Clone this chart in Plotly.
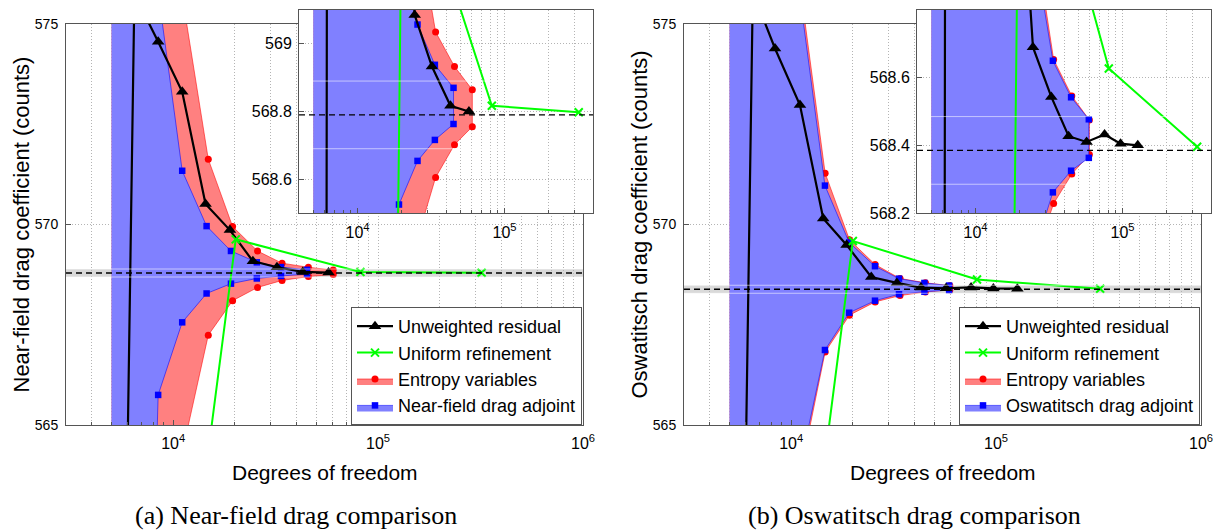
import numpy as np
import plotly.graph_objects as go

# ---------------- data ----------------
BAND_HALF = 0.1

# (a) Near-field drag
nf_ref = 568.79
nf_unw_dof = [5000, 6470, 8450, 11070, 14390, 18920, 24500, 32100, 42900, 57300]
nf_unw_cd = [537.5, 575.74, 574.56, 573.31, 570.51, 569.86, 569.085, 568.933, 568.817, 568.80]
nf_uni_dof = [5100, 20200, 82000, 320000]
nf_uni_cd = [546.0, 569.63, 568.817, 568.798]
nf_ent_dof = [5000, 6600, 8700, 11400, 14840, 19500, 25800, 34000, 45700, 60400]
nf_ent_hi = [610.0, 595.0, 582.0, 575.3, 571.63, 569.95, 569.34, 569.035, 568.933, 568.864]
nf_ent_lo = [520.0, 540.0, 556.0, 564.6, 567.24, 568.10, 568.43, 568.605, 568.702, 568.755]
nf_adj_dof = [5000, 6500, 8450, 11070, 14560, 19150, 25600, 33600, 45000]
nf_adj_hi = [610.0, 590.0, 575.8, 571.34, 569.96, 569.34, 569.057, 568.938, 568.870]
nf_adj_lo = [520.0, 545.0, 565.75, 567.56, 568.28, 568.525, 568.654, 568.716, 568.763]

# (b) Oswatitsch drag
os_ref = 568.385
os_unw_dof = [5000, 6500, 8340, 11040, 14340, 18650, 24600, 32800, 43000, 57000, 75500, 97000, 127000]
os_unw_cd = [537.0, 575.8, 574.39, 572.98, 570.15, 569.49, 568.69, 568.543, 568.427, 568.41, 568.432, 568.405, 568.40]
os_uni_dof = [5100, 20000, 80700, 322000]
os_uni_cd = [546.0, 569.59, 568.627, 568.396]
os_ent_dof = [5000, 6500, 8500, 11100, 14650, 19250, 25700, 34000, 45200, 59500]
os_ent_hi = [612.0, 597.0, 587.0, 575.9, 571.28, 569.62, 569.0, 568.654, 568.546, 568.475]
os_ent_lo = [528.0, 543.0, 554.0, 563.8, 566.82, 567.74, 568.07, 568.228, 568.315, 568.373]
os_adj_dof = [5000, 6500, 8500, 11100, 14620, 19200, 25650, 33600, 44700, 59000]
os_adj_hi = [610.0, 595.0, 585.0, 575.6, 570.97, 569.55, 568.96, 568.65, 568.542, 568.477]
os_adj_lo = [530.0, 545.0, 555.0, 564.0, 566.87, 567.80, 568.10, 568.261, 568.325, 568.363]

legend_names = ["Unweighted residual", "Uniform refinement", "Entropy variables"]
adj_names = ["Near-field drag adjoint", "Oswatitsch drag adjoint"]
y_titles = ["Near-field drag coefficient (counts)", "Oswatitsch drag coefficient (counts)"]
captions = ["(a) Near-field drag comparison", "(b) Oswatitsch drag comparison"]

# ---------------- styles / geometry ----------------
W, H = 1216, 531
SANS = "Liberation Sans, Arial, Helvetica, sans-serif"
SERIF = "Liberation Serif, Times New Roman, serif"
RED_FILL, RED_EDGE, RED_MK = "rgb(255,128,128)", "rgba(255,0,0,0.55)", "rgb(255,0,0)"
BLUE_FILL, BLUE_EDGE, BLUE_MK = "rgb(128,128,255)", "rgba(0,0,255,0.55)", "rgb(0,0,255)"
GREEN = "rgb(0,255,0)"
AXC = "#555555"
GRIDC = "#b4b4b4"
GRIDDASH = "1px,2px"


def fx(p):
    return p / W


def fy(p):
    return 1 - p / H


main_x_px = [(66, 583), (684, 1201)]
main_y_px = (24, 425)
inset_x_px = [(299, 593), (917, 1211)]
inset_y_px = (10, 213)


def log_ticks(vmin, vmax):
    major, texts, minor = [], [], []
    for e in range(3, 7):
        for m in range(1, 10):
            v = m * 10 ** e
            if vmin * 0.999 <= v <= vmax * 1.001:
                if m == 1:
                    major.append(v)
                    texts.append(f"10<sup>{e}</sup>")
                else:
                    minor.append(v)
    return major, texts, minor


def band_xy(xs, hi, lo):
    return list(xs) + list(xs[::-1]), list(hi) + list(lo[::-1])


fig = go.Figure()

panels = [
    dict(unw=(nf_unw_dof, nf_unw_cd), uni=(nf_uni_dof, nf_uni_cd),
         ent=(nf_ent_dof, nf_ent_hi, nf_ent_lo), adj=(nf_adj_dof, nf_adj_hi, nf_adj_lo),
         ref=nf_ref, adjname=adj_names[0]),
    dict(unw=(os_unw_dof, os_unw_cd), uni=(os_uni_dof, os_uni_cd),
         ent=(os_ent_dof, os_ent_hi, os_ent_lo), adj=(os_adj_dof, os_adj_hi, os_adj_lo),
         ref=os_ref, adjname=adj_names[1]),
]

for i, p in enumerate(panels):
    legend_id = "legend" if i == 0 else "legend2"
    for axes, show in [((f"x{'' if i == 0 else 2}", f"y{'' if i == 0 else 2}"), True),
                       ((f"x{3 + i}", f"y{3 + i}"), False)]:
        xa, ya = axes
        ex, ey = band_xy(*p["ent"])
        fig.add_trace(go.Scatter(
            x=ex, y=ey, xaxis=xa, yaxis=ya, mode="lines+markers", fill="toself",
            fillcolor=RED_FILL, line=dict(color=RED_EDGE, width=1),
            marker=dict(symbol="circle", size=7, color=RED_MK),
            name=legend_names[2], legend=legend_id, legendrank=3,
            showlegend=show, hoverinfo="skip"))
        bx, by = band_xy(*p["adj"])
        fig.add_trace(go.Scatter(
            x=bx, y=by, xaxis=xa, yaxis=ya, mode="lines+markers", fill="toself",
            fillcolor=BLUE_FILL, line=dict(color=BLUE_EDGE, width=1),
            marker=dict(symbol="square", size=6.5, color=BLUE_MK),
            name=p["adjname"], legend=legend_id, legendrank=4,
            showlegend=show, hoverinfo="skip"))
        fig.add_trace(go.Scatter(
            x=p["unw"][0], y=p["unw"][1], xaxis=xa, yaxis=ya, mode="lines+markers",
            line=dict(color="black", width=2.2),
            marker=dict(symbol="triangle-up", size=11, color="black"),
            name=legend_names[0], legend=legend_id, legendrank=1,
            showlegend=show, hoverinfo="skip"))
        fig.add_trace(go.Scatter(
            x=p["uni"][0], y=p["uni"][1], xaxis=xa, yaxis=ya, mode="lines+markers",
            line=dict(color=GREEN, width=2),
            marker=dict(symbol="x-thin", size=8, color=GREEN, line=dict(color=GREEN, width=2)),
            name=legend_names[1], legend=legend_id, legendrank=2,
            showlegend=show, hoverinfo="skip"))
        # reference band, its light edges and the dashed reference value
        fig.add_shape(type="rect", xref=f"{xa} domain", yref=ya, x0=0, x1=1,
                      y0=p["ref"] - BAND_HALF, y1=p["ref"] + BAND_HALF,
                      fillcolor="#d9d9d9", line_width=0, layer="below")
        for yy in (p["ref"] - BAND_HALF, p["ref"] + BAND_HALF):
            fig.add_shape(type="line", xref=f"{xa} domain", yref=ya, x0=0, x1=1,
                          y0=yy, y1=yy, line=dict(color="rgba(255,255,255,0.55)", width=1),
                          layer="above")
        fig.add_shape(type="line", xref=f"{xa} domain", yref=ya, x0=0, x1=1,
                      y0=p["ref"], y1=p["ref"], line=dict(color="black", width=1.3, dash="6px,4px"),
                      layer="above")

# ---------------- axes ----------------
main_xr = (3000, 1e6)
inset_xr = (4000, 4e5)
m_major, m_text, m_minor = log_ticks(*main_xr)
i_major, i_text, i_minor = log_ticks(*inset_xr)

common = dict(showline=True, linecolor=AXC, linewidth=1, mirror=True, ticks="inside",
              tickcolor=AXC, showgrid=True, gridcolor=GRIDC, griddash=GRIDDASH, gridwidth=1,
              zeroline=False)


def minor_cfg(vals):
    return dict(tickmode="array", tickvals=vals, ticks="inside", ticklen=3, tickcolor=AXC,
                showgrid=True, gridcolor=GRIDC, griddash=GRIDDASH, gridwidth=1)


layout_axes = {}
for i in range(2):
    sx = "" if i == 0 else "2"
    layout_axes[f"xaxis{sx}"] = dict(
        common, type="log", range=[np.log10(main_xr[0]), np.log10(main_xr[1])],
        domain=[fx(main_x_px[i][0]), fx(main_x_px[i][1])], anchor=f"y{sx}",
        tickmode="array", tickvals=m_major, ticktext=m_text, ticklen=5,
        minor=minor_cfg(m_minor), tickfont=dict(size=16), ticklabelstandoff=4)
    layout_axes[f"yaxis{sx}"] = dict(
        common, range=[565, 575], domain=[fy(main_y_px[1]), fy(main_y_px[0])], anchor=f"x{sx}",
        tickvals=[565, 570, 575], ticktext=["565", "570", "575"], ticklen=5,
        tickfont=dict(size=14), ticklabelstandoff=4)
    k = str(3 + i)
    layout_axes[f"xaxis{k}"] = dict(
        common, type="log", range=[np.log10(inset_xr[0]), np.log10(inset_xr[1])],
        domain=[fx(inset_x_px[i][0]), fx(inset_x_px[i][1])], anchor=f"y{k}",
        tickmode="array", tickvals=i_major, ticktext=i_text, ticklen=5,
        minor=minor_cfg(i_minor), tickfont=dict(size=16), ticklabelstandoff=5)

layout_axes["yaxis3"] = dict(
    common, range=[568.5, 569.1], domain=[fy(inset_y_px[1]), fy(inset_y_px[0])], anchor="x3",
    tickvals=[568.6, 568.8, 569.0], ticktext=["568.6", "568.8", "569"], ticklen=5,
    tickfont=dict(size=16), ticklabelstandoff=3)
layout_axes["yaxis4"] = dict(
    common, range=[568.2, 568.8], domain=[fy(inset_y_px[1]), fy(inset_y_px[0])], anchor="x4",
    tickvals=[568.2, 568.4, 568.6], ticktext=["568.2", "568.4", "568.6"], ticklen=5,
    tickfont=dict(size=16), ticklabelstandoff=3)

# ---------------- text ----------------
annotations = []
for i in range(2):
    cx = (main_x_px[i][0] + main_x_px[i][1]) / 2
    annotations.append(dict(text="Degrees of freedom", x=fx(cx), y=fy(472), xref="paper", yref="paper",
                            showarrow=False, font=dict(size=21), xanchor="center", yanchor="middle"))
    annotations.append(dict(text=y_titles[i], x=fx(main_x_px[i][0] - 45), y=fy(224.5),
                            xref="paper", yref="paper", showarrow=False, textangle=-90,
                            font=dict(size=22), xanchor="center", yanchor="middle"))
    annotations.append(dict(text=captions[i], x=fx([296, 914][i]), y=fy(515), xref="paper",
                            yref="paper", showarrow=False, font=dict(family=SERIF, size=26),
                            xanchor="center", yanchor="middle"))

legend_common = dict(xanchor="left", yanchor="top", bgcolor="white", bordercolor=AXC,
                     borderwidth=1, font=dict(size=18, family=SANS), itemwidth=36,
                     tracegroupgap=0)

fig.update_layout(
    width=W, height=H, margin=dict(l=0, r=0, t=0, b=0), template="none",
    paper_bgcolor="white", plot_bgcolor="white",
    font=dict(family=SANS, color="black"),
    showlegend=True,
    legend=dict(legend_common, x=fx(351), y=fy(307)),
    legend2=dict(legend_common, x=fx(959), y=fy(307)),
    annotations=annotations,
    **layout_axes,
)

fig.write_html("out.html")
